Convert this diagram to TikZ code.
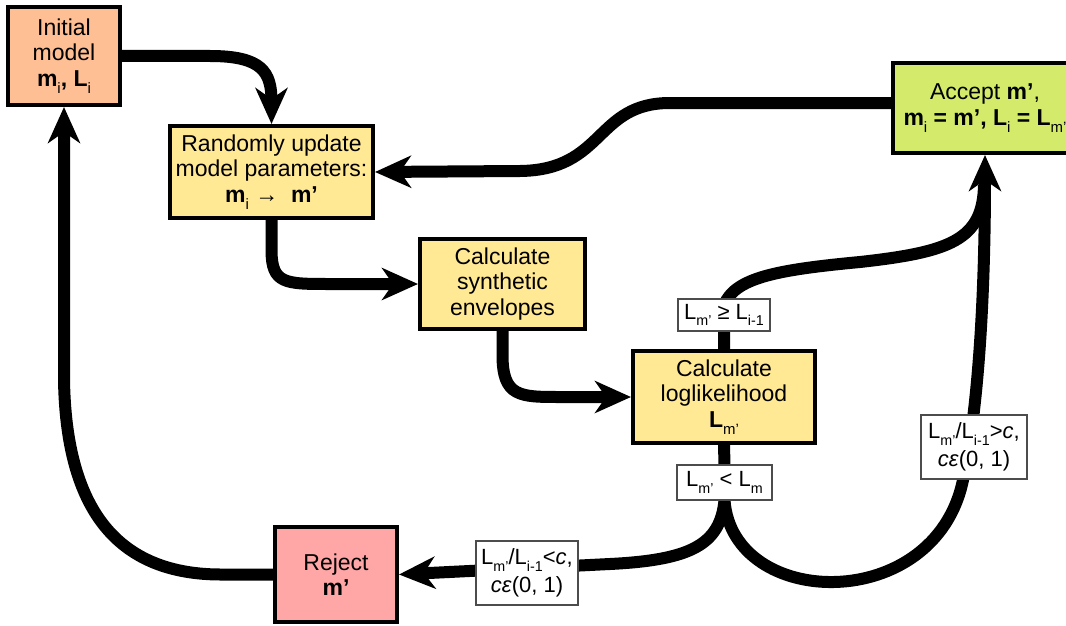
\documentclass[tikz,border=0pt]{standalone}
\usepackage{fontspec}
\usepackage{graphicx}
\setmainfont{Liberation Sans}
\usetikzlibrary{arrows.meta,backgrounds}
\newcommand\sbs[1]{\raisebox{-0.3em}{\scalebox{0.65}{\mdseries #1}}}
\definecolor{cInit}{HTML}{FFBF94}
\definecolor{cYel}{HTML}{FFE994}
\definecolor{cAcc}{HTML}{D4EA6B}
\definecolor{cRej}{HTML}{FFA6A6}
\begin{document}
\begin{tikzpicture}[x=1pt,y=-1pt,
  box/.style={draw=black,line width=4pt,align=center,inner sep=0pt,font=\fontsize{23}{25.5}\selectfont},
  lbl/.style={draw=black!70,fill=white,line width=1.2pt,align=center,inner sep=0pt,font=\fontsize{22}{28}\selectfont},
  conn/.style={line width=12pt},
  arr/.style={conn,-{Stealth[length=36pt,width=32pt,inset=11pt]}}]
\useasboundingbox (0,0) rectangle (1066,626);

\node[box,fill=cInit,minimum width=112,minimum height=98] (init) at (64,56) {Initial\\model\\\textbf{m\sbs{i}, L\sbs{i}}};
\node[box,fill=cYel,minimum width=203,minimum height=92] (rand) at (271.5,172) {Randomly update\\model parameters:\\\textbf{m\sbs{i} → ~m’}};
\node[box,fill=cYel,minimum width=165,minimum height=90] (synth) at (502.5,284) {Calculate\\synthetic\\envelopes};
\node[box,fill=cYel,minimum width=182,minimum height=92] (lik) at (724,397) {Calculate\\loglikelihood\\\textbf{L\sbs{m’}}};
\node[box,fill=cAcc,minimum width=184,minimum height=90] (acc) at (985,108) {Accept \textbf{m’},\\\textbf{m\sbs{i} = m’, L\sbs{i} = L\sbs{m’}}};
\node[box,fill=cRej,minimum width=122,minimum height=95] (rej) at (336,574.5) {Reject\\\textbf{m’}};

\node[lbl,minimum width=92,minimum height=32] (ge) at (724,315) {L\sbs{m’} ≥ L\sbs{i-1}};
\node[lbl,minimum width=95,minimum height=35] (lt) at (724.5,482.5) {L\sbs{m’} < L\sbs{m}};
\node[lbl,minimum width=102,minimum height=64] (lc) at (527,573) {L\sbs{m’}/L\sbs{i-1}<\textit{c},\\\textit{cε}(0, 1)};
\node[lbl,minimum width=106,minimum height=64] (gc) at (974,447) {L\sbs{m’}/L\sbs{i-1}>\textit{c},\\\textit{cε}(0, 1)};

\begin{scope}[on background layer]
\draw[arr] (init.east) -- (210,56) .. controls (262,56) and (271.5,72) .. (rand.north);
\draw[arr] ([yshift=5pt]acc.west) -- (670,103) .. controls (595,103) and (605,170) .. (520,171) -- (rand.east);
\draw[arr] (rand.south) -- (271.5,250) .. controls (271.5,284) and (285,284) .. (330,284) -- (synth.west);
\draw[arr] (synth.south) -- (502.5,355) .. controls (502.5,397) and (520,397) .. (560,397) -- (lik.west);
\draw[conn] (lik.north) -- (724,305) .. controls (735,278) and (775,270) .. (860,262) .. controls (950,252) and (983,240) .. (984,185);
\draw[conn] (lik.south) -- (lt.north);
\draw[arr] (lt.south) .. controls (733,610) and (935,615) .. (963,480) .. controls (978,410) and (985,300) .. (acc.south);
\draw[arr] (lt.south) .. controls (720,545) and (690,560) .. (610,564) -- (rej.east);
\draw[arr] (rej.west) -- (220,574.5) .. controls (110,574) and (66,500) .. (64,380) -- (init.south);
\end{scope}
\end{tikzpicture}
\end{document}
